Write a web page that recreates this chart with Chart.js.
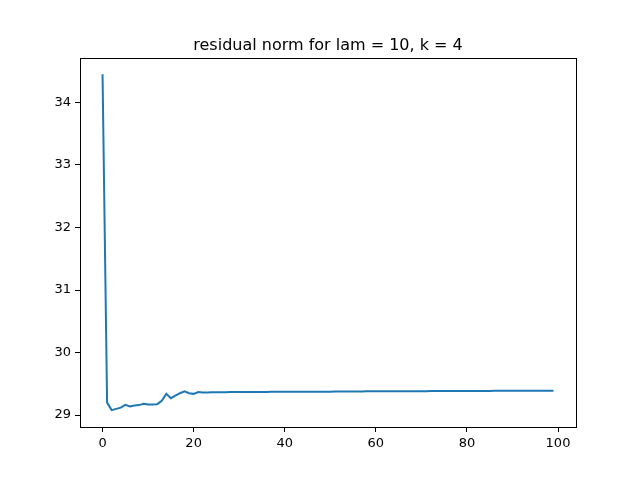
<!DOCTYPE html>
<html><head><meta charset="utf-8">
<script src="https://cdn.jsdelivr.net/npm/chart.js@4"></script>
<style>body{margin:0;background:#fff}</style>
</head><body>
<div style="width:640px;height:480px"><canvas id="c"></canvas></div>
<script>
const titleText = 'residual norm for lam = 10, k = 4';
// residual per iteration
const headValues = [34.45, 29.20, 29.08, 29.10, 29.12, 29.165, 29.14, 29.155, 29.16, 29.18,
  29.17, 29.17, 29.175, 29.23, 29.34, 29.27, 29.31, 29.35, 29.38, 29.35,
  29.34, 29.37, 29.36, 29.36, 29.365, 29.365, 29.365, 29.365, 29.37, 29.37];
const tailValues = [29.37, 29.372, 29.375, 29.377, 29.38, 29.382, 29.384, 29.386, 29.388, 29.39];
const xTicks = [0, 20, 40, 60, 80, 100];
const yTicks = [29, 30, 31, 32, 33, 34];

const points = headValues.map((v, i) => ({x: i, y: v}));
// iterations 30..99: gradual approach, anchored every 7 steps
for (let i = 30; i < 100; i++) {
  const k = Math.min(tailValues.length - 1, Math.floor((i - 30) / 7));
  points.push({x: i, y: tailValues[k]});
}

const frame = {
  id: 'frame',
  afterDraw(ch) {
    const {ctx, chartArea: a} = ch;
    ctx.save();
    ctx.strokeStyle = '#000'; ctx.lineWidth = 1;
    ctx.strokeRect(a.left + 0.5, a.top + 0.5, a.right - a.left, a.bottom - a.top);
    ctx.fillStyle = '#000';
    ctx.font = '16px "DejaVu Sans"';
    ctx.textAlign = 'center'; ctx.textBaseline = 'alphabetic';
    ctx.fillText(titleText, (a.left + a.right) / 2, 50);
    ctx.restore();
  }
};
const tickFont = {family: 'DejaVu Sans', size: 13};
new Chart(document.getElementById('c'), {
  type: 'line',
  data: {datasets: [{data: points, borderColor: '#1f77b4', borderWidth: 2, pointRadius: 0, tension: 0}]},
  options: {
    responsive: true, maintainAspectRatio: false, animation: false,
    layout: {padding: {top: 58, right: 64, left: 0, bottom: 0}},
    plugins: {legend: {display: false}, tooltip: {enabled: false}},
    scales: {
      x: {
        type: 'linear', min: -4.95, max: 103.95,
        afterBuildTicks: s => { s.ticks = xTicks.map(v => ({value: v})); },
        afterFit: s => { s.height = 53; },
        grid: {drawOnChartArea: false, tickLength: 5, color: '#000'},
        border: {color: '#000'},
        ticks: {color: '#000', font: tickFont, maxRotation: 0, padding: 4}
      },
      y: {
        min: 28.81, max: 34.71,
        afterBuildTicks: s => { s.ticks = yTicks.map(v => ({value: v})); },
        afterFit: s => { s.width = 80; },
        grid: {drawOnChartArea: false, tickLength: 5, color: '#000'},
        border: {color: '#000'},
        ticks: {color: '#000', font: tickFont, padding: 4}
      }
    }
  },
  plugins: [frame]
});
</script>
</body></html>
